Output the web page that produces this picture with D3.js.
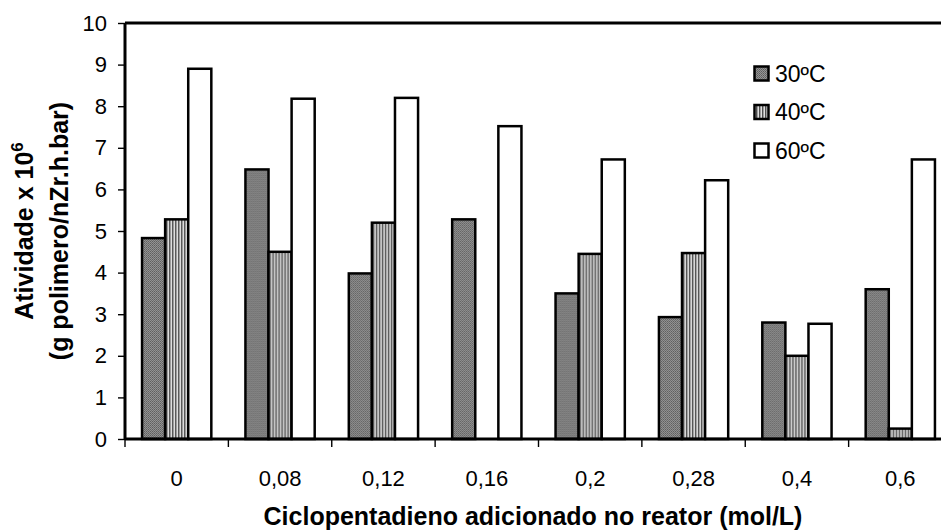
<html lang="pt">
<head>
<title>Atividade</title>
<script src="https://d3js.org/d3.v7.min.js"></script>
<style>
  body { margin: 0; background: #fff; }
  text { font-family: "Liberation Sans", Arial, sans-serif; }
</style>
</head>
<body>
<div id="chart"></div>
<script>
  // data
  var categories = ["0", "0,08", "0,12", "0,16", "0,2", "0,28", "0,4", "0,6"];
  var seriesNames = ["30ºC", "40ºC", "60ºC"];
  var t30 = [4.83, 6.48, 3.98, 5.28, 3.5, 2.93, 2.8, 3.6];
  var t40 = [5.28, 4.5, 5.2, 0, 4.45, 4.47, 2.0, 0.25];
  var t60 = [8.9, 8.18, 8.2, 7.52, 6.72, 6.22, 2.77, 6.72];
  var yTicks = [0, 1, 2, 3, 4, 5, 6, 7, 8, 9, 10];

  var W = 941, H = 530;
  var margin = {top: 23, left: 125, bottom: 91};
  var plotW = 827, plotH = H - margin.top - margin.bottom;

  var svg = d3.select("#chart").append("svg")
    .attr("width", W).attr("height", H);

  var defs = svg.append("defs");
  // 30C: fine gray dither
  var p1 = defs.append("pattern").attr("id", "dots")
    .attr("width", 2).attr("height", 2).attr("patternUnits", "userSpaceOnUse");
  p1.append("rect").attr("width", 2).attr("height", 2).attr("fill", "#959595");
  p1.append("rect").attr("width", 1).attr("height", 1).attr("fill", "#5c5c5c");
  p1.append("rect").attr("x", 1).attr("y", 1).attr("width", 1).attr("height", 1).attr("fill", "#6c6c6c");
  // 40C: vertical stripes
  var p2 = defs.append("pattern").attr("id", "stripes")
    .attr("width", 3).attr("height", 3).attr("patternUnits", "userSpaceOnUse");
  p2.append("rect").attr("width", 3).attr("height", 3).attr("fill", "#e0e0e0");
  p2.append("rect").attr("width", 1).attr("height", 3).attr("fill", "#505050");
  p2.append("rect").attr("x", 1).attr("width", 1).attr("height", 3).attr("fill", "#a0a0a0");

  var fills = ["url(#dots)", "url(#stripes)", "#ffffff"];

  var g = svg.append("g").attr("transform", "translate(" + margin.left + "," + margin.top + ")");

  var x = d3.scaleBand().domain(categories).range([0, plotW]).paddingInner(0.33).paddingOuter(0.165);
  var xGroup = d3.scaleBand().domain(categories).range([0, plotW]);
  var xs = d3.scaleBand().domain(seriesNames).range([0, x.bandwidth()]);
  var y = d3.scaleLinear().domain([0, 10]).range([plotH, 0]);

  var rows = categories.map(function(c, i) { return {cat: c, vals: [t30[i], t40[i], t60[i]]}; });

  // top border
  g.append("line").attr("x1", 0).attr("x2", W - margin.left).attr("y1", 0).attr("y2", 0)
    .attr("stroke", "#000").attr("stroke-width", 3);

  // bars
  var groups = g.selectAll(".grp").data(rows).enter().append("g")
    .attr("transform", function(d) { return "translate(" + x(d.cat) + ",0)"; });
  groups.selectAll("rect").data(function(d) {
      return d.vals.map(function(v, k) { return {k: k, v: v}; });
    })
    .enter().append("rect")
    .filter(function(d) { return d.v > 0; })
    .attr("x", function(d) { return xs(seriesNames[d.k]); })
    .attr("y", function(d) { return y(d.v); })
    .attr("width", xs.bandwidth())
    .attr("height", function(d) { return plotH - y(d.v); })
    .attr("fill", function(d) { return fills[d.k]; })
    .attr("stroke", "#000").attr("stroke-width", 2.5);

  // y axis
  var yAxis = g.append("g")
    .call(d3.axisLeft(y).tickValues(yTicks).tickSize(7).tickPadding(11).tickFormat(d3.format("d")));
  yAxis.select(".domain").attr("stroke-width", 3).attr("d", "M0," + plotH + "V0");
  yAxis.selectAll(".tick line").attr("stroke-width", 1.4);
  yAxis.selectAll("text").attr("font-size", 22).attr("fill", "#000");

  // x axis
  var xAxis = g.append("g").attr("transform", "translate(0," + plotH + ")")
    .call(d3.axisBottom(xGroup).tickSize(0).tickPadding(31));
  xAxis.select(".domain").remove();
  xAxis.append("line").attr("x1", 0).attr("x2", W - margin.left).attr("stroke", "#000").attr("stroke-width", 3);
  xAxis.selectAll(".tick text").attr("font-size", 22).attr("fill", "#000");
  var bounds = categories.map(function(c) { return xGroup(c); });
  xAxis.selectAll(".bnd").data(bounds).enter().append("line")
    .attr("x1", function(d) { return d; }).attr("x2", function(d) { return d; })
    .attr("y1", 0).attr("y2", 8).attr("stroke", "#000").attr("stroke-width", 1.4);

  // axis titles
  svg.append("text").attr("x", 533).attr("y", 525).attr("text-anchor", "middle")
    .attr("font-size", 25).attr("font-weight", "bold")
    .text("Ciclopentadieno adicionado no reator (mol/L)");

  var yt = svg.append("text").attr("transform", "translate(33,231) rotate(-90)")
    .attr("text-anchor", "middle").attr("font-size", 25).attr("font-weight", "bold");
  yt.append("tspan").text("Atividade x 10");
  yt.append("tspan").attr("dy", -10).attr("font-size", 17).text("6");
  svg.append("text").attr("transform", "translate(68,231) rotate(-90)")
    .attr("text-anchor", "middle").attr("font-size", 25).attr("font-weight", "bold")
    .text("(g polimero/nZr.h.bar)");

  // legend
  var leg = svg.append("g").attr("transform", "translate(753,65)");
  var li = leg.selectAll("g").data(seriesNames).enter().append("g")
    .attr("transform", function(d, i) { return "translate(0," + (i * 38.5) + ")"; });
  li.append("rect").attr("x", 1.5).attr("y", 1.5).attr("width", 14).attr("height", 14)
    .attr("fill", function(d, i) { return fills[i]; })
    .attr("stroke", "#000").attr("stroke-width", 2.5);
  li.append("text").attr("x", 22).attr("y", 16.5).attr("font-size", 23).attr("fill", "#000")
    .text(function(d) { return d; });
</script>
</body>
</html>
